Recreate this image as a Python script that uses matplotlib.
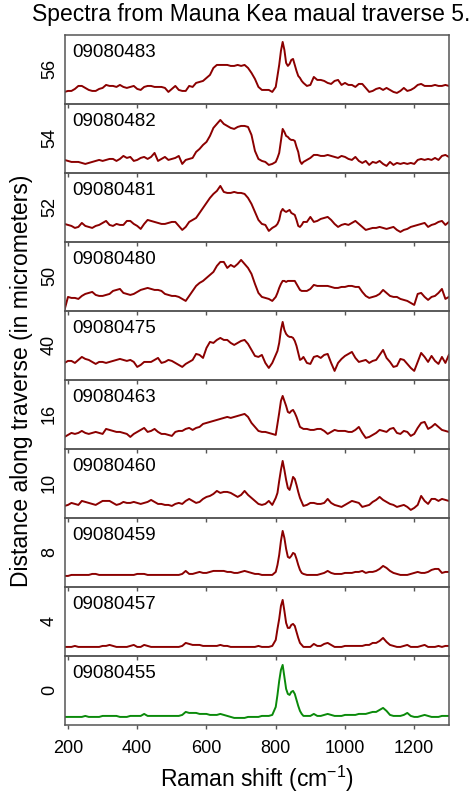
import numpy as np
import matplotlib
matplotlib.use("Agg")
import matplotlib.pyplot as plt

plt.rcParams['font.family'] = ['Liberation Sans', 'DejaVu Sans']
plt.rcParams['mathtext.fontset'] = 'custom'
plt.rcParams['mathtext.rm'] = 'Liberation Sans'

# Raman shift sampling (cm-1): coarse on the baseline, finer over the 820/855 doublet
shift = np.concatenate([np.arange(190, 800, 10), np.arange(800, 885, 5), np.arange(890, 1301, 10)])

# spectrum names and distance along traverse (top panel first)
names = ["09080483", "09080482", "09080481", "09080480", "09080475",
         "09080463", "09080460", "09080459", "09080457", "09080455"]
distances = ["56", "54", "52", "50", "40", "16", "10", "8", "4", "0"]
line_colors = ["#8b0000"] * 9 + ["#0a8a0a"]

# intensities, arbitrary units (offset within each panel)
s483 = [12, 13, 13, 15, 18, 18, 16, 14, 13, 13,
        15, 16, 19, 18, 18, 17, 19, 17, 16, 17,
        18, 15, 14, 17, 18, 18, 17, 17, 17, 16,
        12, 15, 18, 14, 13, 13, 18, 17, 21, 22,
        23, 26, 29, 36, 39, 39, 39, 39, 38, 38,
        39, 38, 39, 36, 31, 25, 17, 14, 14, 14, 12,
        17, 28, 39, 53, 62, 54, 41, 38, 40, 44, 45, 39, 33, 28, 26, 23, 21,
        18, 19, 27, 24, 24, 23, 21, 20, 23, 24,
        19, 21, 19, 19, 17, 20, 20, 16, 12, 13,
        15, 16, 14, 16, 14, 12, 11, 13, 16, 13,
        14, 16, 19, 20, 18, 18, 18, 19, 18, 18, 19, 18]
s482 = [13, 12, 11, 11, 11, 10, 9, 10, 11, 12,
        13, 12, 13, 14, 14, 12, 14, 17, 15, 16,
        12, 13, 15, 16, 14, 16, 20, 12, 14, 16,
        13, 14, 15, 17, 9, 13, 14, 15, 21, 24,
        28, 31, 37, 45, 49, 53, 49, 47, 45, 44,
        46, 47, 47, 46, 38, 22, 14, 12, 11, 8, 9,
        11, 15, 20, 32, 44, 41, 37, 36, 34, 33, 33, 32, 26, 21, 12, 9, 11,
        13, 15, 18, 18, 17, 17, 18, 17, 16, 15,
        17, 16, 14, 13, 16, 12, 10, 12, 8, 11,
        10, 12, 9, 7, 11, 8, 10, 9, 10, 9,
        10, 9, 13, 14, 13, 14, 13, 15, 13, 17, 18, 16]
s481 = [18, 17, 16, 14, 15, 19, 16, 15, 14, 16,
        17, 19, 21, 17, 16, 18, 17, 17, 21, 21,
        18, 16, 13, 18, 22, 21, 20, 19, 18, 18,
        19, 20, 20, 16, 12, 15, 20, 22, 24, 29,
        34, 39, 44, 48, 51, 56, 50, 49, 49, 50,
        49, 49, 48, 44, 38, 30, 22, 18, 17, 11, 14,
        16, 18, 22, 30, 33, 31, 30, 31, 32, 29, 28, 27, 22, 16, 15, 17, 20,
        20, 25, 20, 21, 23, 24, 25, 22, 18, 15,
        17, 18, 17, 19, 21, 18, 15, 12, 13, 14,
        14, 15, 14, 13, 14, 15, 12, 10, 12, 13,
        15, 16, 17, 18, 19, 15, 17, 18, 20, 21, 17, 20]
s480 = [1, 14, 13, 13, 12, 15, 17, 18, 19, 16,
        15, 15, 16, 17, 20, 21, 22, 18, 17, 16,
        17, 19, 21, 22, 23, 22, 21, 21, 20, 17,
        16, 15, 15, 14, 12, 10, 15, 20, 25, 28,
        30, 33, 36, 39, 45, 49, 49, 43, 46, 44,
        47, 51, 47, 43, 37, 27, 18, 14, 13, 12, 10,
        14, 18, 23, 27, 30, 30, 29, 30, 30, 30, 30, 30, 27, 24, 21, 20, 20,
        20, 22, 26, 25, 25, 25, 25, 24, 23, 23,
        24, 24, 25, 25, 24, 24, 19, 15, 13, 14,
        15, 17, 21, 18, 15, 14, 14, 12, 11, 10,
        8, 6, 17, 18, 14, 11, 14, 15, 18, 22, 12, 14]
s475 = [17, 19, 19, 17, 20, 23, 21, 20, 18, 16,
        18, 18, 17, 18, 19, 20, 21, 20, 19, 20,
        18, 13, 15, 18, 18, 18, 20, 22, 17, 18,
        20, 19, 17, 15, 13, 16, 18, 20, 26, 25,
        22, 32, 38, 37, 40, 42, 40, 40, 37, 35,
        37, 39, 40, 36, 30, 24, 23, 25, 17, 12, 17,
        25, 29, 37, 50, 58, 50, 46, 44, 43, 43, 42, 39, 34, 27, 20, 21, 23,
        17, 16, 23, 24, 22, 25, 26, 17, 9, 17,
        21, 24, 26, 28, 22, 18, 19, 20, 17, 19,
        20, 25, 30, 22, 18, 13, 14, 21, 20, 16,
        12, 9, 18, 27, 23, 18, 24, 19, 16, 23, 17, 25]
s463 = [12, 14, 16, 15, 16, 18, 16, 15, 16, 17,
        16, 15, 20, 19, 18, 17, 17, 16, 15, 12,
        15, 17, 19, 21, 17, 18, 20, 17, 15, 15,
        14, 13, 17, 18, 18, 20, 21, 19, 21, 22,
        25, 26, 27, 28, 29, 30, 31, 32, 31, 32,
        33, 34, 35, 32, 26, 22, 18, 17, 17, 16, 15,
        14, 25, 36, 48, 53, 48, 43, 37, 36, 38, 39, 36, 32, 27, 22, 21, 20,
        20, 19, 19, 20, 20, 18, 15, 17, 19, 18,
        18, 18, 17, 17, 19, 22, 16, 11, 12, 14,
        16, 19, 18, 17, 20, 21, 16, 15, 18, 17,
        13, 15, 21, 26, 27, 20, 22, 25, 22, 19, 18, 17]
s460 = [12, 13, 15, 14, 13, 17, 16, 15, 14, 13,
        15, 17, 17, 17, 15, 13, 14, 16, 15, 15,
        16, 15, 14, 15, 16, 18, 16, 14, 14, 13,
        13, 12, 14, 15, 14, 17, 19, 17, 15, 16,
        19, 21, 22, 24, 27, 25, 26, 26, 25, 23,
        21, 23, 27, 23, 20, 17, 14, 13, 14, 17, 13,
        20, 25, 37, 48, 57, 48, 38, 30, 28, 34, 41, 39, 33, 26, 20, 16, 12,
        13, 15, 15, 14, 14, 15, 19, 15, 13, 12,
        11, 13, 15, 17, 16, 15, 11, 12, 13, 16,
        18, 21, 18, 16, 14, 13, 11, 12, 13, 11,
        8, 10, 13, 22, 17, 14, 19, 19, 17, 19, 18, 17]
s459 = [11, 11, 12, 12, 12, 12, 12, 12, 13, 13,
        12, 12, 12, 12, 12, 12, 12, 12, 12, 12,
        12, 13, 13, 13, 12, 12, 12, 12, 12, 12,
        12, 12, 12, 12, 13, 16, 13, 13, 14, 15,
        14, 14, 15, 16, 16, 16, 16, 15, 15, 14,
        14, 15, 16, 15, 14, 13, 13, 12, 12, 12, 12,
        15, 22, 32, 46, 56, 49, 38, 30, 29, 31, 34, 33, 28, 22, 17, 14, 13,
        12, 12, 12, 12, 13, 14, 16, 14, 13, 13,
        13, 14, 14, 14, 15, 15, 16, 14, 15, 15,
        16, 18, 21, 19, 16, 14, 13, 12, 12, 12,
        13, 14, 15, 14, 14, 15, 17, 18, 18, 14, 15, 15]
s457 = [9, 9, 9, 10, 9, 9, 9, 9, 9, 9,
        9, 10, 10, 11, 10, 9, 9, 9, 9, 10,
        11, 9, 9, 11, 10, 9, 9, 9, 9, 9,
        9, 9, 9, 9, 10, 13, 12, 11, 11, 11,
        10, 10, 10, 10, 10, 11, 10, 10, 9, 9,
        9, 9, 9, 9, 9, 9, 10, 9, 9, 9, 10,
        16, 27, 37, 50, 56, 45, 33, 28, 28, 31, 32, 30, 24, 18, 13, 11, 9,
        9, 9, 12, 10, 10, 12, 13, 11, 9, 9,
        9, 10, 10, 10, 10, 10, 10, 11, 11, 13,
        13, 15, 18, 14, 11, 10, 9, 9, 10, 11,
        9, 9, 9, 10, 11, 9, 9, 9, 10, 9, 10, 10]
s455 = [8, 8, 8, 8, 8, 8, 9, 8, 8, 8,
        8, 9, 9, 9, 9, 9, 8, 8, 8, 9,
        9, 9, 9, 11, 9, 9, 9, 9, 9, 9,
        9, 9, 9, 9, 10, 13, 12, 12, 12, 11,
        11, 11, 10, 10, 10, 11, 10, 9, 8, 7,
        7, 7, 7, 8, 8, 8, 8, 9, 9, 9, 10,
        18, 30, 44, 55, 60, 48, 36, 31, 30, 33, 34, 31, 25, 19, 14, 11, 9,
        9, 9, 11, 9, 9, 10, 11, 10, 9, 9,
        9, 10, 10, 10, 10, 11, 11, 11, 12, 13,
        13, 15, 17, 14, 10, 9, 9, 9, 10, 12,
        9, 8, 8, 9, 10, 9, 8, 8, 8, 9, 9, 9]

spectra = [s483, s482, s481, s480, s475, s463, s460, s459, s457, s455]
for s in spectra:
    assert len(s) == len(shift), len(s)

fig, axes = plt.subplots(len(spectra), 1, figsize=(4.77, 7.94), dpi=100, sharex=True)
fig.subplots_adjust(left=0.136, right=0.941, top=0.956, bottom=0.087, hspace=0)

for ax, name, dist, col, y in zip(axes, names, distances, line_colors, spectra):
    ax.set_facecolor('none')
    ax.plot(shift, y, color=col, lw=1.4)
    ax.set_xlim(191, 1300)
    ax.set_ylim(0, 69)
    ax.set_yticks([34.5])
    ax.set_yticklabels([dist], rotation=90, va='center', fontsize=13)
    ax.tick_params(axis='y', length=0, pad=5)
    ax.set_xticks([200, 400, 600, 800, 1000, 1200])
    ax.tick_params(axis='x', direction='out', length=3, width=1, color='#555555',
                   labelsize=13, pad=8)
    for sp in ax.spines.values():
        sp.set_color('#555555')
        sp.set_linewidth(1.1)
    ax.text(0.018, 0.75, name, transform=ax.transAxes, fontsize=13.5,
            ha='left', va='center')

fig.text(0.527, 0.982, "Spectra from Mauna Kea maual traverse 5.",
         ha='center', va='center', fontsize=16.5)
fig.text(0.046, 0.521, "Distance along traverse (in micrometers)",
         rotation=90, ha='center', va='center', fontsize=16.5)
fig.text(0.539, 0.019, r"Raman shift (cm$^{\mathregular{-1}}$)",
         ha='center', va='center', fontsize=16.5)

fig.savefig("out.png", dpi=100)
